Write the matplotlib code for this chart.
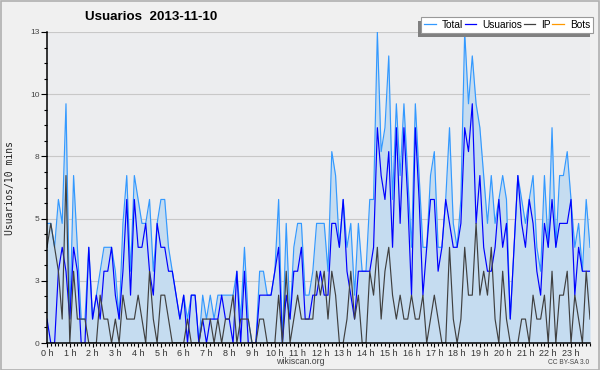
import matplotlib
matplotlib.use("Agg")
import matplotlib.pyplot as plt
import numpy as np
from matplotlib.patches import Rectangle

# Data: users per 10 minutes, 2013-11-10 (144 slots)
total = [5, 5, 4, 6, 5, 10, 1, 7, 4, 1,
         1, 4, 1, 2, 3, 4, 4, 4, 3, 1,
         5, 7, 3, 7, 6, 5, 5, 6, 3, 5,
         6, 6, 4, 3, 2, 1, 2, 1, 2, 2,
         0, 2, 1, 2, 1, 2, 2, 2, 2, 2,
         3, 1, 4, 1, 0, 0, 3, 3, 2, 2,
         3, 6, 0, 5, 1, 4, 5, 5, 2, 2,
         3, 5, 5, 5, 3, 8, 7, 4, 6, 4,
         5, 2, 5, 3, 3, 6, 6, 13, 8, 9,
         12, 6, 10, 7, 10, 7, 4, 10, 7, 4,
         4, 7, 8, 4, 4, 6, 9, 5, 4, 6,
         13, 10, 12, 10, 9, 7, 5, 7, 5, 6,
         7, 6, 1, 4, 7, 6, 5, 6, 7, 4,
         3, 7, 4, 9, 4, 7, 7, 8, 6, 4,
         5, 3, 6, 4]
usuarios = [1, 0, 0, 3, 4, 3, 1, 4, 3, 0,
            0, 4, 1, 2, 1, 3, 3, 4, 2, 1,
            3, 6, 2, 6, 4, 4, 5, 3, 2, 5,
            4, 4, 3, 3, 2, 1, 2, 0, 2, 2,
            0, 1, 0, 1, 1, 1, 2, 1, 1, 0,
            3, 0, 3, 0, 0, 0, 2, 2, 2, 2,
            3, 4, 0, 2, 1, 3, 3, 4, 1, 1,
            2, 2, 3, 2, 2, 5, 5, 4, 6, 3,
            2, 1, 3, 3, 3, 3, 4, 9, 7, 6,
            8, 4, 9, 5, 9, 6, 2, 9, 6, 2,
            4, 6, 6, 3, 4, 6, 5, 4, 4, 5,
            9, 8, 10, 5, 7, 4, 3, 3, 4, 6,
            4, 5, 1, 4, 7, 5, 4, 6, 5, 3,
            2, 5, 4, 6, 4, 5, 5, 5, 6, 2,
            4, 3, 3, 3]
ip = [4, 5, 4, 3, 1, 7, 0, 3, 1, 1,
      1, 0, 0, 0, 2, 1, 1, 0, 1, 0,
      2, 1, 1, 1, 2, 1, 0, 3, 1, 0,
      2, 2, 1, 0, 0, 0, 0, 1, 0, 0,
      0, 1, 1, 1, 0, 1, 0, 1, 1, 2,
      0, 1, 1, 1, 0, 0, 1, 1, 0, 0,
      0, 2, 0, 3, 0, 1, 2, 1, 1, 1,
      1, 3, 2, 3, 1, 3, 2, 0, 0, 1,
      3, 1, 2, 0, 0, 3, 2, 4, 1, 3,
      4, 2, 1, 2, 1, 1, 2, 1, 1, 2,
      0, 1, 2, 1, 0, 0, 4, 1, 0, 1,
      4, 2, 2, 5, 2, 3, 2, 4, 1, 0,
      3, 1, 0, 0, 0, 1, 1, 0, 2, 1,
      1, 2, 0, 3, 0, 2, 2, 3, 0, 2,
      1, 0, 3, 1]
bots = [0] * 144
hour_labels = [f"{h} h" for h in range(24)]
y_labels = ["0", "3", "5", "8", "10", "13"]

slots = np.arange(len(total))

W, H = 600, 370
fig = plt.figure(figsize=(W / 100, H / 100), dpi=100)
fig.patch.set_facecolor("#f0f0f0")
fig.patches.append(Rectangle((0.5 / W, 0.5 / H), 1 - 1.5 / W, 1 - 1.5 / H,
                             transform=fig.transFigure, fill=False,
                             edgecolor="#b0b0b0", linewidth=1.2))

ax = fig.add_axes([47 / W, 1 - 343 / H, 543 / W, 311 / H])
ax.set_facecolor("#ecedef")

ax.plot(slots, bots, color="#ff9900", lw=0.8, zorder=0.5)
ax.fill_between(slots, 0, total, color="#c5dcf0", lw=0, zorder=1)
ax.plot(slots, total, color="#3399ff", lw=0.85, zorder=2)
ax.plot(slots, usuarios, color="#0000ff", lw=0.85, zorder=3)
ax.plot(slots, ip, color="#404040", lw=0.85, zorder=4)

ax.set_xlim(0, len(total) - 1)
ax.set_ylim(0, 13)

ax.set_yticks(np.linspace(0, 13, 6))
ax.set_yticklabels(y_labels)
ax.set_yticks(np.linspace(0, 13, 21), minor=True)
ax.set_xticks(np.arange(0, 144, 6))
ax.set_xticklabels(hour_labels)
ax.set_xticks(np.arange(0, 144), minor=True)

ax.tick_params(axis="y", which="major", length=4.3, width=0.8, pad=1,
               labelsize=6, labelcolor="#444444")
ax.tick_params(axis="y", which="minor", length=2.2, width=0.8)
ax.tick_params(axis="x", which="major", length=3, width=0.8, pad=1,
               labelsize=6.5, labelcolor="#333333")
ax.tick_params(axis="x", which="minor", length=2.2, width=0.8)
for lab in ax.get_xticklabels() + ax.get_yticklabels():
    lab.set_family("Liberation Sans")

ax.grid(axis="y", color="#c8c8c8", lw=0.8, zorder=0.1)
ax.set_axisbelow(True)
for side in ("top", "right"):
    ax.spines[side].set_visible(False)
for side in ("left", "bottom"):
    ax.spines[side].set_linewidth(1.1)
    ax.spines[side].set_zorder(5)

fig.text(85 / W, 1 - 17 / H, "Usuarios  2013-11-10", fontsize=9.6,
         fontweight="bold", family="Liberation Sans", ha="left", va="center")
fig.text(10 / W, 1 - 188 / H, "Usuarios/10 mins", fontsize=7,
         family="DejaVu Sans Mono", rotation=90, ha="center", va="center",
         color="#222222")
fig.text(300 / W, 1 - 362 / H, "wikiscan.org", fontsize=6.3,
         family="Liberation Sans", ha="center", va="center", color="#444444")
fig.text(589 / W, 1 - 362 / H, "CC BY-SA 3.0", fontsize=4.8,
         family="Liberation Sans", ha="right", va="center", color="#444444")

handles = [plt.Line2D([], [], color=c, lw=0.9)
           for c in ("#3399ff", "#0000ff", "#404040", "#ff9900")]
leg = fig.legend(handles, ["Total", "Usuarios", "IP", "Bots"], ncol=4,
                 loc="upper right", bbox_to_anchor=(593 / W, 1 - 17 / H),
                 bbox_transform=fig.transFigure, borderaxespad=0,
                 fancybox=False, framealpha=1, edgecolor="#999999",
                 prop={"family": "Liberation Sans", "size": 7.3},
                 handlelength=1.15, handletextpad=0.55, columnspacing=0.2,
                 borderpad=0.3)
leg.get_frame().set_linewidth(0.8)
leg.set_zorder(6)

fig.canvas.draw()
bb = leg.get_window_extent(fig.canvas.get_renderer())
fig.patches.append(Rectangle(((bb.x0 - 3) / W, (bb.y0 - 4) / H),
                             bb.width / W, bb.height / H,
                             transform=fig.transFigure, facecolor="#808080",
                             edgecolor="none", zorder=5.5))

fig.savefig("out.png", dpi=100, facecolor=fig.get_facecolor())
